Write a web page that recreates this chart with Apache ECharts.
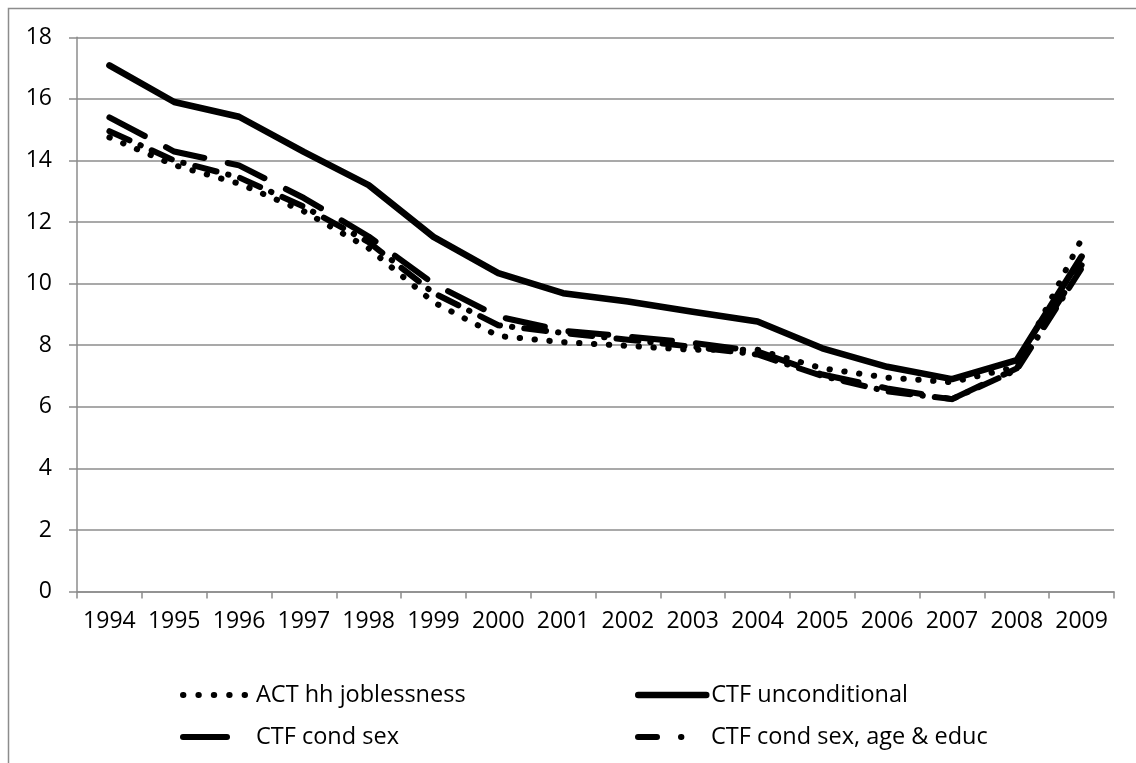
<!DOCTYPE html>
<html>
<head>
<meta charset="utf-8">
<script src="https://cdn.jsdelivr.net/npm/echarts@6/dist/echarts.min.js"></script>
<style>
  html, body { margin: 0; padding: 0; background: #fff; }
  #chart { width: 1136px; height: 763px; }
</style>
</head>
<body>
<div id="chart"></div>
<script>
// values
const years = ['1994', '1995', '1996', '1997', '1998', '1999', '2000', '2001',
    '2002', '2003', '2004', '2005', '2006', '2007', '2008', '2009']
const actJoblessness = [14.75, 13.85, 13.25, 12.35, 11.15, 9.4, 8.3, 8.1, 7.98, 7.85, 7.85, 7.25, 6.95, 6.8, 7.3, 11.45]
const ctfUnconditional = [17.09, 15.9, 15.42, 14.28, 13.2, 11.52, 10.34, 9.69, 9.42, 9.09, 8.77, 7.9, 7.3, 6.9, 7.52, 10.88]
const ctfCondSex = [15.4, 14.29, 13.84, 12.78, 11.53, 10.0, 8.93, 8.47, 8.28, 8.08, 7.8, 7.05, 6.6, 6.25, 7.25, 10.6]
const ctfCondSexAgeEduc = [14.95, 14.0, 13.45, 12.5, 11.35, 9.7, 8.65, 8.4, 8.18, 7.95, 7.7, 7.0, 6.5, 6.25, 7.2, 10.5]
const names = ['ACT hh joblessness', 'CTF unconditional', 'CTF cond sex', 'CTF cond sex, age & educ']

const FONT = 'Open Sans'
const GRID_GRAY = '#8c8c8c'

const lineSeries = (name, data, width, type) => ({
    name,
    type: 'line',
    data,
    symbol: 'none',
    smooth: false,
    lineStyle: { color: '#000', width, type, cap: 'round', join: 'round' },
    itemStyle: { color: '#000' },
    emphasis: { disabled: true }
})

const legendAt = (left, top, name, lineStyle) => ({
    left,
    top,
    itemWidth: 68,
    itemHeight: 14,
    selectedMode: false,
    textStyle: { fontFamily: FONT, fontSize: 23.5, color: '#000' },
    data: [{ name, lineStyle, itemStyle: { opacity: 0 } }]
})

const chart = echarts.init(document.getElementById('chart'))
chart.setOption({
    animation: false,
    backgroundColor: '#fff',
    grid: { left: 77, right: 22, top: 37.3, bottom: 171.4, containLabel: false },
    graphic: [{
        type: 'polyline',
        shape: { points: [[8.5, 763], [8.5, 8.5], [1136, 8.5]] },
        style: { stroke: GRID_GRAY, lineWidth: 1.5, fill: null },
        silent: true
    }],
    legend: [
        legendAt(175, 678, names[0], { type: [0.4, 15], cap: 'round', width: 6 }),
        legendAt(630, 678, names[1], { type: 'solid', cap: 'round', width: 6.5 }),
        legendAt(175, 720, names[2], { type: [44, 200], cap: 'round', width: 6 }),
        legendAt(630, 720, names[3], { type: [19, 24, 0.4, 200], cap: 'round', width: 6 })
    ],
    xAxis: {
        type: 'category',
        data: years,
        boundaryGap: true,
        axisLine: { lineStyle: { color: GRID_GRAY, width: 1.5 } },
        axisTick: { show: true, length: 7, lineStyle: { color: GRID_GRAY, width: 1.5 } },
        axisLabel: { fontFamily: FONT, fontSize: 23, color: '#000', margin: 18, interval: 0 },
        splitLine: { show: false }
    },
    yAxis: {
        type: 'value',
        min: 0,
        max: 18,
        interval: 2,
        axisLine: { show: true, lineStyle: { color: GRID_GRAY, width: 1.5 } },
        axisTick: { show: true, length: 8, lineStyle: { color: GRID_GRAY, width: 1.5 } },
        axisLabel: { fontFamily: FONT, fontSize: 23, color: '#000', margin: 25 },
        splitLine: { show: true, lineStyle: { color: GRID_GRAY, width: 1.5 } }
    },
    series: [
        lineSeries(names[0], actJoblessness, 6, [0.4, 14.5]),
        lineSeries(names[1], ctfUnconditional, 6.5, 'solid'),
        lineSeries(names[2], ctfCondSex, 6, [40, 24]),
        lineSeries(names[3], ctfCondSexAgeEduc, 6, [22, 12, 0.4, 12])
    ]
})
</script>
</body>
</html>
